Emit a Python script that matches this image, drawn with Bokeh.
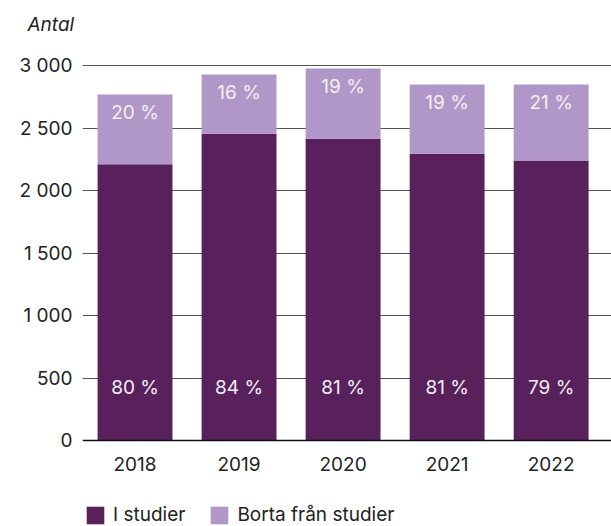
from bokeh.plotting import figure
from bokeh.models import ColumnDataSource, Range1d, FixedTicker, Legend, LegendItem
from bokeh.core.properties import value
from bokeh.embed import file_html
from bokeh.resources import INLINE

years = ["2018", "2019", "2020", "2021", "2022"]
i_studier = [2210, 2455, 2415, 2295, 2240]
borta = [558, 473, 561, 553, 608]
y_ticks = [0, 500, 1000, 1500, 2000, 2500, 3000]
y_tick_labels = ["0", "500", "1 000", "1 500", "2 000", "2 500", "3 000"]
series_names = ["I studier", "Borta från studier"]
colors = ["#58215b", "#b197c7"]

FONT = "Inter"
FS = "19px"
xs = list(range(len(years)))
totals = [a + b for a, b in zip(i_studier, borta)]
pct_in = [f"{round(100 * a / t)} %" for a, t in zip(i_studier, totals)]
pct_out = [f"{round(100 * b / t)} %" for b, t in zip(borta, totals)]

src = ColumnDataSource(dict(x=xs, i_studier=i_studier, borta=borta, total=totals,
                            zero=[0] * len(xs), pin=pct_in, pout=pct_out))

# frame runs from y=40 px to the bottom edge (526 px); 0 sits at 440 px, 3000 at 65 px
p = figure(frame_width=529, frame_height=486, output_backend="svg", toolbar_location=None,
           x_range=Range1d(-0.505, 4.58), y_range=Range1d(-688, 3200))
p.min_border_left = 82
p.min_border_right = 0
p.min_border_top = 40
p.min_border_bottom = 0
p.outline_line_color = None
p.background_fill_color = "white"

p.title.text = "Antal"
p.title.text_font = FONT
p.title.text_font_size = FS
p.title.text_font_style = "italic"
p.title.text_color = "#222222"
p.title.align = "left"
p.title.offset = -55
p.title.standoff = 10

r = p.vbar_stack(["i_studier", "borta"], x="x", width=0.72, source=src,
                 color=colors, line_color=None)

p.text(x="x", y="total", text="pout", source=src, y_offset=18,
       text_align="center", text_baseline="middle", text_color="#f4eff6",
       text_font=value(FONT), text_font_size=FS)
p.text(x="x", y="zero", text="pin", source=src, y_offset=-53,
       text_align="center", text_baseline="middle", text_color="#f4eff6",
       text_font=value(FONT), text_font_size=FS)

# y axis
p.yaxis.ticker = FixedTicker(ticks=y_ticks)
p.yaxis.major_label_overrides = {t: l for t, l in zip(y_ticks, y_tick_labels)}
p.yaxis.axis_line_color = None
p.yaxis.major_tick_line_color = None
p.yaxis.minor_tick_line_color = None
p.yaxis.major_label_standoff = 4
p.yaxis.major_label_text_font = FONT
p.yaxis.major_label_text_font_size = FS
p.yaxis.major_label_text_color = "#222222"

p.ygrid.ticker = FixedTicker(ticks=y_ticks[1:])
p.ygrid.grid_line_color = "#555555"
p.ygrid.grid_line_width = 1
p.xgrid.grid_line_color = None

# x axis drawn at value 0
p.xaxis.fixed_location = 0
p.xaxis.ticker = FixedTicker(ticks=xs)
p.xaxis.major_label_overrides = {i: y for i, y in zip(xs, years)}
p.xaxis.axis_line_color = "#111111"
p.xaxis.axis_line_width = 1.5
p.xaxis.major_tick_line_color = None
p.xaxis.minor_tick_line_color = None
p.xaxis.major_label_standoff = 10
p.xaxis.major_label_text_font = FONT
p.xaxis.major_label_text_font_size = FS
p.xaxis.major_label_text_color = "#222222"

legend = Legend(items=[LegendItem(label=series_names[0], renderers=[r[0]]),
                       LegendItem(label=series_names[1], renderers=[r[1]])],
                orientation="horizontal", location=(2, 0),
                glyph_width=22, glyph_height=22, label_standoff=7, spacing=23,
                padding=0, margin=0, border_line_color=None,
                background_fill_alpha=0,
                label_text_font=FONT, label_text_font_size=FS,
                label_text_color="#222222")
p.add_layout(legend, "center")

open("out.html", "w").write(file_html(p, INLINE))
